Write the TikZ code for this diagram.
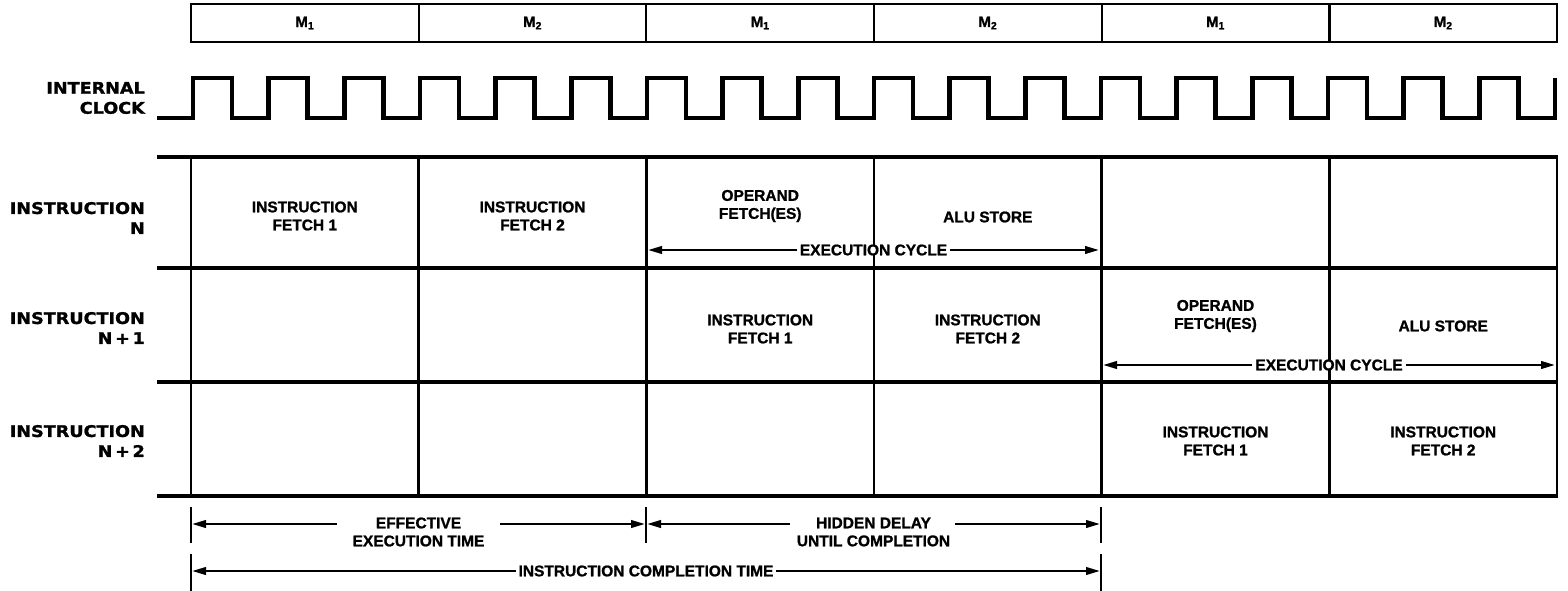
\documentclass[tikz,border=0pt]{standalone}
\usepackage{fontspec}
\setmainfont{Liberation Sans}[BoldFeatures={FakeBold=1.2}]
\newfontfamily\lblfont{DejaVu Sans}[FakeStretch=1.1,BoldFeatures={FakeBold=1.5}]
\usetikzlibrary{arrows.meta}
\begin{document}
\begin{tikzpicture}[x=1pt,y=-1pt,
  txt/.style={font=\bfseries\fontsize{15.5}{18}\selectfont, align=center, inner sep=0pt},
  lbl/.style={font=\lblfont\bfseries\fontsize{16}{20}\selectfont, align=right, anchor=east, inner sep=0pt},
  hbox/.style={draw, line width=2.3pt, minimum width=227.67pt, minimum height=38pt, inner sep=0pt,
    font=\bfseries\fontsize{15}{17}\selectfont},
  hline/.style={line width=4pt},
  vline/.style={line width=2.4pt},
  clk/.style={line width=4.5pt, line join=miter},
  tip/.tip={Triangle[length=14pt,width=7.5pt]},
  dim/.style={line width=2.4pt, -tip},
  dimboth/.style={line width=2.4pt, tip-tip},
  tickline/.style={line width=2.4pt},
  gap/.style={txt, fill=white, inner xsep=3pt, inner ysep=0pt},
]
\useasboundingbox (0,0) rectangle (1568,591);

% header boxes
\foreach \i/\m in {1/1,2/2,3/1,4/2,5/1,6/2}
  \node[hbox] (h\i) at ({191+(\i-0.5)*227.67},23) {M\textsubscript{\m}};

% clock
\node[lbl] (clklbl) at (145,98) {INTERNAL\\CLOCK};
\draw[clk] (157,118) foreach \k in {0,...,17} {
   -- ({193+\k*75.67},118) -- ({193+\k*75.67},78)
   -- ({232+\k*75.67},78) -- ({232+\k*75.67},118) }
   -- (1555,118) -- (1555,78);

% table grid
\foreach \y in {157,268,382,496}
  \draw[hline] (157,\y) -- (1558,\y);
\foreach \i in {0,...,6}
  \draw[vline] ({191+\i*227.67},157) -- ({191+\i*227.67},496);

% row labels
\node[lbl] (r1) at (145,218) {INSTRUCTION\\N};
\node[lbl] (r2) at (145,328) {INSTRUCTION\\N\,+\,1};
\node[lbl] (r3) at (145,441) {INSTRUCTION\\N\,+\,2};

% row 1
\node[txt] (a1) at (304.8,216) {INSTRUCTION\\FETCH 1};
\node[txt] (a2) at (532.5,216) {INSTRUCTION\\FETCH 2};
\node[txt] (a3) at (760.2,206) {OPERAND\\FETCH(ES)};
\node[txt] (a4) at (987.8,217) {ALU STORE};
\coordinate (e1a) at (648,250);
\coordinate (e1b) at (1099,250);
\draw[dimboth] (e1a) -- node[gap] (ec1) {EXECUTION CYCLE} (e1b);

% row 2
\node[txt] (b3) at (760.2,329) {INSTRUCTION\\FETCH 1};
\node[txt] (b4) at (987.8,329) {INSTRUCTION\\FETCH 2};
\node[txt] (b5) at (1215.5,316) {OPERAND\\FETCH(ES)};
\node[txt] (b6) at (1443.2,326) {ALU STORE};
\coordinate (e2a) at (1103,365);
\coordinate (e2b) at (1555,365);
\draw[dimboth] (e2a) -- node[gap] (ec2) {EXECUTION CYCLE} (e2b);

% row 3
\node[txt] (c5) at (1215.5,441) {INSTRUCTION\\FETCH 1};
\node[txt] (c6) at (1443.2,441) {INSTRUCTION\\FETCH 2};

% bottom dimension lines
\coordinate (t1a) at (191,507); \coordinate (t1b) at (191,543);
\coordinate (t2a) at (646,507); \coordinate (t2b) at (646,543);
\coordinate (t3a) at (1101,507); \coordinate (t3b) at (1101,543);
\coordinate (u1a) at (191,554); \coordinate (u1b) at (191,591);
\coordinate (u3a) at (1101,554); \coordinate (u3b) at (1101,591);
\draw[tickline] (t1a) -- (t1b);
\draw[tickline] (t2a) -- (t2b);
\draw[tickline] (t3a) -- (t3b);
\draw[tickline] (u1a) -- (u1b);
\draw[tickline] (u3a) -- (u3b);

\node[txt] (eff) at (418.5,532) {EFFECTIVE\\EXECUTION TIME};
\coordinate (effl) at (337,524); \coordinate (effle) at (192,524);
\coordinate (effr) at (500,524); \coordinate (effre) at (645,524);
\draw[dim] (effl) -- (effle);
\draw[dim] (effr) -- (effre);

\node[txt] (hid) at (873.5,532) {HIDDEN DELAY\\UNTIL COMPLETION};
\coordinate (hidl) at (790,524); \coordinate (hidle) at (647,524);
\coordinate (hidr) at (955,524); \coordinate (hidre) at (1100,524);
\draw[dim] (hidl) -- (hidle);
\draw[dim] (hidr) -- (hidre);

\coordinate (ica) at (192,571); \coordinate (icb) at (1100,571);
\draw[dimboth] (ica) -- node[gap] (ict) {INSTRUCTION COMPLETION TIME} (icb);
\end{tikzpicture}
\end{document}
